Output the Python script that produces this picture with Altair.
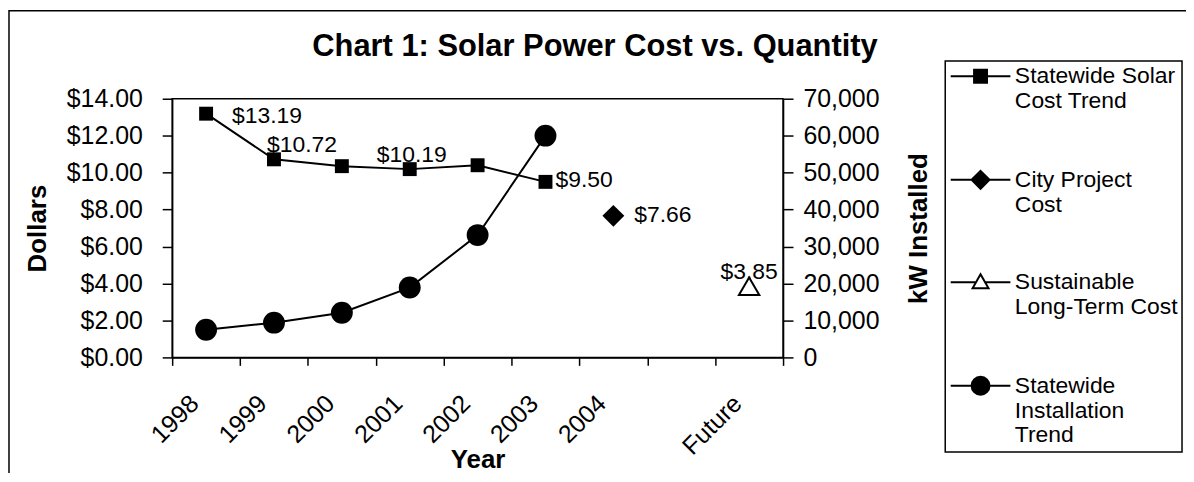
import altair as alt
import pandas as pd

FONT = "Liberation Sans"

categories = ["1998", "1999", "2000", "2001", "2002", "2003", "2004", " ", "Future"]

cost_years = ["1998", "1999", "2000", "2001", "2002", "2003"]
cost_values = [13.19, 10.72, 10.35, 10.19, 10.40, 9.50]

city_years = ["2004"]
city_values = [7.66]

sust_years = ["Future"]
sust_values = [3.85]

install_years = ["1998", "1999", "2000", "2001", "2002", "2003"]
install_values = [7500, 9400, 12100, 18900, 33100, 60000]

series_names = [
    "Statewide Solar Cost Trend",
    "City Project Cost",
    "Sustainable Long-Term Cost",
    "Statewide Installation Trend (cumulative)",
]
legend_lines = [
    ["Statewide Solar", "Cost Trend"],
    ["City Project", "Cost"],
    ["Sustainable", "Long-Term Cost"],
    ["Statewide", "Installation", "Trend"],
]
# legend glyphs: a line with the series marker in its middle (unit = 10 px)
legend_paths = [
    "M-1,0H5M1.35,-0.65H2.65V0.65H1.35Z",
    "M-1,0H5M2,-0.9L2.9,0L2,0.9L1.1,0Z",
    "M-1,0H1.54M2.46,0H5M2,-0.8L2.8,0.6H1.2Z",
    "M-1,0H5M1.1,0A0.9,0.9,0,1,0,2.9,0A0.9,0.9,0,1,0,1.1,0Z",
]
legend_fills = ["black", "black", "white", "black"]

left_df = pd.DataFrame({
    "year": cost_years + city_years + sust_years,
    "series": [series_names[0]] * len(cost_years) + [series_names[1]] * len(city_years) + [series_names[2]] * len(sust_years),
    "value": cost_values + city_values + sust_values,
})
right_df = pd.DataFrame({"year": install_years, "kw": install_values})
legend_df = pd.DataFrame({"series": series_names})

W, H = 614, 260


def xenc():
    return alt.X(
        "year:N",
        sort=categories,
        scale=alt.Scale(type="band", domain=categories, paddingInner=0, paddingOuter=0),
        axis=alt.Axis(
            title="Year", labelAngle=-45, labelAlign="right", labelBaseline="middle",
            labelOffset=-12, labelPadding=34, tickSize=8, tickBand="extent",
            labelOverlap=False, titleX=W / 2, titleY=103, titleBaseline="middle",
            titleAlign="center",
        ),
    )


def yleft():
    return alt.Y(
        "value:Q",
        scale=alt.Scale(domain=[0, 14], nice=False, zero=True),
        axis=alt.Axis(
            values=[0, 2, 4, 6, 8, 10, 12, 14], format="$.2f", title="Dollars",
            tickSize=10, labelPadding=20, labelOverlap=False, labelFlush=False,
            titleAngle=270, titleX=-135, titleY=H / 2, titleBaseline="middle",
            titleAlign="center",
        ),
    )


def yright():
    return alt.Y(
        "kw:Q",
        scale=alt.Scale(domain=[0, 70000], nice=False, zero=True),
        axis=alt.Axis(
            orient="right", values=list(range(0, 70001, 10000)), format=",.0f",
            title="kW Installed", tickSize=10, labelPadding=10, labelOverlap=False,
            labelFlush=False, titleAngle=270, titleX=136, titleY=H / 2,
            titleBaseline="middle", titleAlign="center",
        ),
    )


base_left = alt.Chart(left_df)

cost_line = base_left.transform_filter(alt.datum.series == series_names[0]).mark_line(
    color="black", strokeWidth=2).encode(x=xenc(), y=yleft())
cost_pts = base_left.transform_filter(alt.datum.series == series_names[0]).mark_point(
    shape="square", filled=True, size=196, color="black", opacity=1).encode(x=xenc(), y=yleft())
city_pt = base_left.transform_filter(alt.datum.series == series_names[1]).mark_point(
    shape="diamond", filled=True, size=484, color="black", opacity=1).encode(x=xenc(), y=yleft())
sust_pt = base_left.transform_filter(alt.datum.series == series_names[2]).mark_point(
    shape="triangle-up", filled=False, size=420, color="black", strokeWidth=2, opacity=1).encode(x=xenc(), y=yleft())


def value_label(year, align, dx, dy):
    return base_left.transform_filter(alt.datum.year == year).mark_text(
        align=align, baseline="middle", dx=dx, dy=dy, font=FONT, fontSize=23, color="black"
    ).encode(x=xenc(), y=yleft(), text=alt.Text("value:Q", format="$.2f"))


labels = [
    value_label("1998", "left", 26, 2),
    value_label("1999", "left", -7, -14),
    value_label("2001", "center", 2, -14),
    value_label("2003", "left", 10, -2),
    value_label("2004", "left", 21, -1),
    value_label("Future", "center", 0, -14),
]

left = alt.layer(cost_line, cost_pts, city_pt, sust_pt, *labels)

base_right = alt.Chart(right_df)
inst_line = base_right.mark_line(color="black", strokeWidth=2).encode(x=xenc(), y=yright())
inst_pts = base_right.mark_point(shape="circle", filled=True, size=484, color="black", opacity=1).encode(
    x=xenc(), y=yright())
right = alt.layer(inst_line, inst_pts)

label_expr = " : ".join(
    f"datum.label == '{n}' ? {l}" for n, l in zip(series_names, legend_lines)
) + " : datum.label"

leg = alt.Legend(
    title=None, orient="none", legendX=777, legendY=-38, strokeColor="black",
    padding=4, symbolSize=400, symbolStrokeWidth=2, symbolStrokeColor="black",
    labelFont=FONT, labelFontSize=23, labelColor="black", labelOffset=43, labelLimit=400,
    rowPadding=53, labelExpr=label_expr, labelBaseline="middle",
)

legend_layer = alt.Chart(legend_df).transform_filter("false").mark_point(
    filled=True, strokeWidth=2, opacity=1
).encode(
    shape=alt.Shape("series:N", scale=alt.Scale(domain=series_names, range=legend_paths), legend=leg),
    fill=alt.Fill("series:N", scale=alt.Scale(domain=series_names, range=legend_fills), legend=leg),
    stroke=alt.Stroke("series:N", scale=alt.Scale(domain=series_names, range=["black"] * 4), legend=leg),
)

frame = alt.Chart(pd.DataFrame({"f": [0]})).mark_rect(
    fill="transparent", stroke="black", strokeWidth=1.5
).encode(x=alt.value(-164), x2=alt.value(1060), y=alt.value(-88.5), y2=alt.value(420))

chart = alt.layer(frame, left, right, legend_layer).resolve_scale(
    y="independent"
).properties(
    width=W, height=H,
    autosize=alt.AutoSizeParams(type="none"),
    padding={"left": 165, "top": 90, "right": 405, "bottom": 115},
    title=alt.TitleParams(
        "Chart 1: Solar Power Cost vs. Quantity", font=FONT, fontSize=31, fontWeight="bold",
        anchor="middle", frame="group", dx=118, offset=-77, baseline="alphabetic", color="black",
    ),
).configure_view(
    stroke="black", strokeWidth=1.5
).configure_axis(
    labelFont=FONT, labelFontSize=25, labelColor="black", titleFont=FONT, titleFontSize=26,
    titleFontWeight="bold", titleColor="black", domainColor="black", domainWidth=1.5,
    tickColor="black", tickWidth=1.5, grid=False,
).configure_legend(
    strokeWidth=1.5
)

chart.save("out.html", embed_options={"renderer": "svg", "actions": False})
